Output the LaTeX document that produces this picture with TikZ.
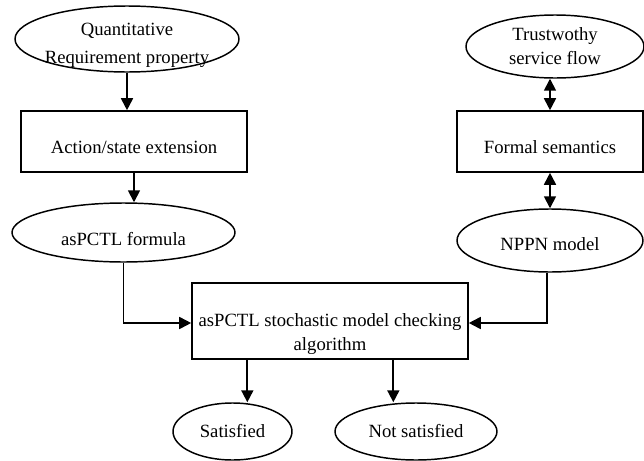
\documentclass[tikz,border=0pt]{standalone}
\usepackage{fontspec}
\setmainfont{Liberation Serif}
\usetikzlibrary{arrows.meta,positioning,shapes.geometric}
\newcommand{\lowstrut}[1]{\rule{0pt}{#1}}

\begin{document}
\begin{tikzpicture}[
    x=0.75pt, y=-0.75pt,
    oval/.style={
      ellipse, draw, line width=1.1pt, inner xsep=0pt, inner ysep=0pt,
      align=center, font=\fontsize{14}{18}\selectfont
    },
    block/.style={
      rectangle, draw, line width=1.2pt, inner sep=0pt,
      align=center, font=\fontsize{14}{18}\selectfont
    },
    arrow/.style={-{Triangle[width=9pt,length=9pt]}, line width=1.3pt},
    biarrow/.style={{Triangle[width=9pt,length=9pt]}-{Triangle[width=9pt,length=9pt]}, line width=1.3pt}
  ]
    \useasboundingbox (0,0) rectangle (644,461);
    \node[oval, inner xsep=-5pt, inner ysep=-5pt, minimum width=168pt, minimum height=49.5pt] (req) at (127,39) {\lowstrut{19pt}Quantitative\\[3pt]Requirement property};
    \node[block, minimum width=169.5pt, minimum height=45.75pt] (act) at (134,141.5) {\lowstrut{17.5pt}Action/state extension};
    \node[oval, minimum width=167.25pt, minimum height=44.25pt] (fml) at (123.5,232.5) {\lowstrut{19pt}asPCTL formula};
    \node[oval, minimum width=133.5pt, minimum height=47.25pt] (trust) at (555,46.5) {Trustwothy\\service flow};
    \node[block, minimum width=139.5pt, minimum height=45.75pt] (sem) at (550,141.5) {\lowstrut{17.5pt}Formal semantics};
    \node[oval, minimum width=139.5pt, minimum height=47.25pt] (nppn) at (550,240.5) {\lowstrut{15pt}NPPN model};
    \node[block, minimum width=207pt, minimum height=57pt] (alg) at (330,321) {\lowstrut{30pt}asPCTL stochastic model checking\\algorithm};
    \node[oval, minimum width=89.25pt, minimum height=42.75pt] (sat) at (232.5,431.5) {Satisfied};
    \node[oval, minimum width=121.5pt, minimum height=42.75pt] (nsat) at (416,431.5) {Not satisfied};
    \draw[arrow] (req.south) -- (req.south |- act.north);
    \draw[arrow] (act.south) -- (act.south |- fml.north);
    \draw[biarrow] (sem.north |- trust.south) -- (sem.north);
    \draw[biarrow] (sem.south) -- (sem.south |- nppn.north);
    \draw[arrow] (fml.south) |- ([yshift=-1.5pt]alg.west);
    \draw[arrow] ([xshift=-2.25pt]nppn.south) |- ([yshift=-1.5pt]alg.east);
    \draw[arrow] ([xshift=-62pt]alg.south) -- ([xshift=-62pt]alg.south |- sat.north);
    \draw[arrow] ([xshift=47.5pt]alg.south) -- ([xshift=47.5pt]alg.south |- nsat.north);
  \end{tikzpicture}
\end{document}
